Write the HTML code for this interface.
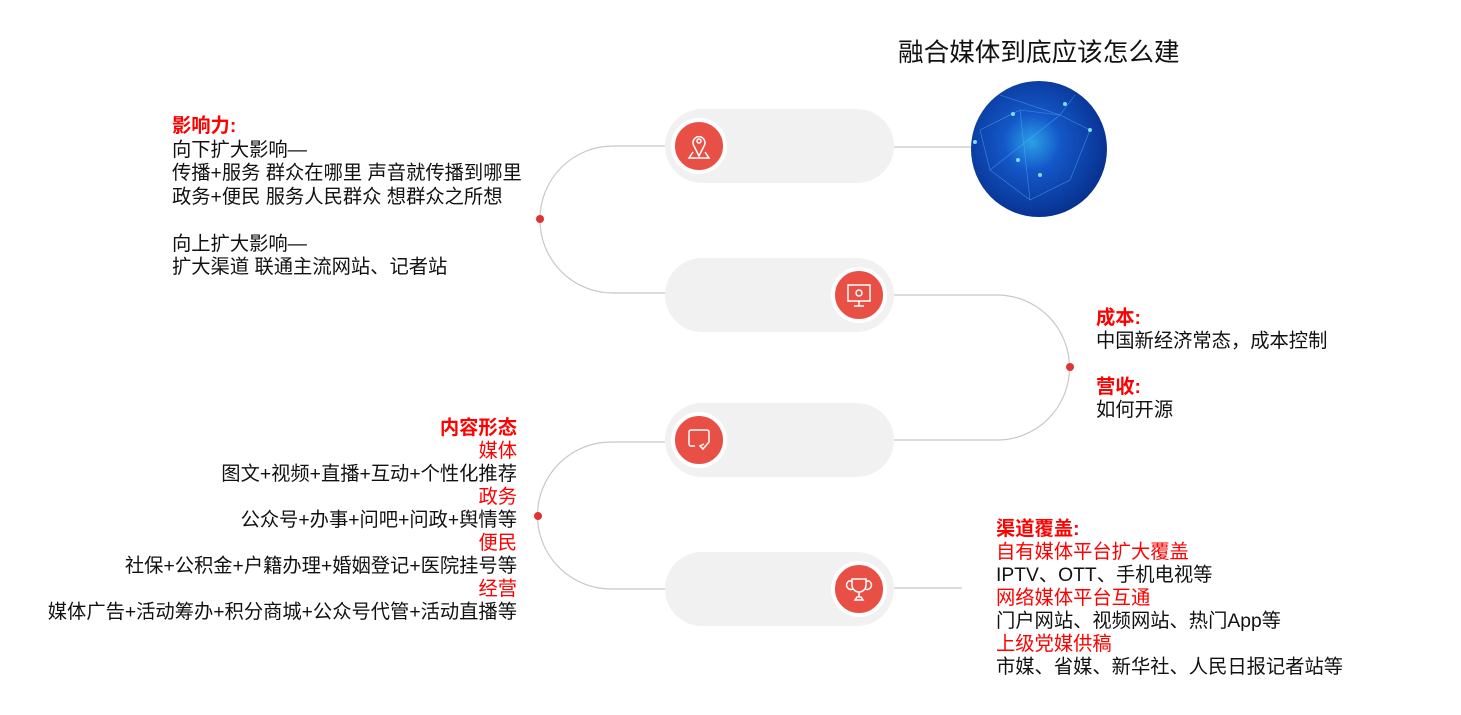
<!DOCTYPE html>
<html><head><meta charset="utf-8"><style>
body{margin:0;width:1461px;height:715px;background:#fff;position:relative;overflow:hidden;font-family:"Liberation Sans","Noto Sans CJK SC",sans-serif;color:#111}
.t{position:absolute;font-size:19.3px;line-height:23.5px;white-space:nowrap}
.r{color:#f00}.b{font-weight:bold}
.pill{position:absolute;left:665px;width:229px;height:74px;border-radius:37px;background:#f1f1f1}
.ic{position:absolute;width:48px;height:48px;border-radius:50%;background:#e84f45;border:4px solid #fff}
</style></head><body>
<svg width="1461" height="715" style="position:absolute;left:0;top:0">
<g fill="none" stroke="#c8c8c8" stroke-width="1.2">
<path d="M665,146 H613 A73,73 0 0 0 540,219 A73,73 0 0 0 613,293 H665"/>
<path d="M894,295 H997 A72.5,72.5 0 0 1 1069.5,367.5 A72.5,72.5 0 0 1 997,440 H894"/>
<path d="M665,442 H611 A73.5,73.5 0 0 0 537.5,515.5 A73.5,73.5 0 0 0 611,589 H665"/>
<path d="M894,147 H975"/><path d="M894,588 H962"/>
</g>
<circle cx="540" cy="219" r="4" fill="#e03333"/>
<circle cx="1070" cy="367" r="4" fill="#e03333"/>
<circle cx="538" cy="516" r="4" fill="#e03333"/>
<defs><radialGradient id="g" cx="45%" cy="45%" r="60%"><stop offset="0" stop-color="#2aa0e8"/><stop offset="0.35" stop-color="#1457c8"/><stop offset="1" stop-color="#062e8a"/></radialGradient></defs>
<circle cx="1039" cy="149" r="68" fill="url(#g)"/>
<g stroke="#5ab8ff" stroke-width="0.6" opacity="0.6" fill="none">
<path d="M980,130 L1020,110 L1060,115 L1090,130 L1070,180 L1030,200 L990,170 Z M1020,110 L1030,200 M1060,115 L990,170 M1000,95 L1060,115 L1075,95"/>
</g>
<g fill="#7fdcff"><circle cx="1013" cy="114" r="2"/><circle cx="1065" cy="104" r="2"/><circle cx="1090" cy="130" r="2"/><circle cx="1018" cy="160" r="2"/><circle cx="1040" cy="175" r="2"/><circle cx="975" cy="142" r="2"/></g>
</svg>
<div class="pill" style="top:109px"></div>
<div class="pill" style="top:258px"></div>
<div class="pill" style="top:403px"></div>
<div class="pill" style="top:552px"></div>
<div class="ic" style="left:671px;top:118px"><svg width="48" height="48"><g fill="none" stroke="#fff" stroke-width="1.5"><path d="M24,34 L19,24 A6,6 0 1 1 29,24 Z"/><circle cx="24" cy="19" r="2"/><path d="M18,30 L14,36 H34 L30,30"/></g></svg></div>
<div class="ic" style="left:831px;top:267px"><svg width="48" height="48"><g fill="none" stroke="#fff" stroke-width="1.5"><rect x="13" y="14" width="22" height="16"/><path d="M24,30 V35 M19,35 H29"/><circle cx="24" cy="22" r="3"/></g></svg></div>
<div class="ic" style="left:671px;top:412px"><svg width="48" height="48"><g fill="none" stroke="#fff" stroke-width="1.5"><path d="M20,30 H16 A2,2 0 0 1 14,28 V16 A2,2 0 0 1 16,14 H32 A2,2 0 0 1 34,16 V26 L28,33 L25,30 L29,28"/></g></svg></div>
<div class="ic" style="left:831px;top:561px"><svg width="48" height="48"><g fill="none" stroke="#fff" stroke-width="1.5"><path d="M17,14 H31 V20 A7,7 0 0 1 17,20 Z M17,16 H14 A4,4 0 0 0 18,24 M31,16 H34 A4,4 0 0 1 30,24 M24,27 V32 M20,35 H28 L26,32 H22 Z"/></g></svg></div>
<div class="t" style="left:898px;top:38px;font-size:25.6px;line-height:30px">融合媒体到底应该怎么建</div>
<div class="t" style="left:172px;top:115px">
<span class="r b">影响力:</span><br>向下扩大影响—<br>传播+服务 群众在哪里 声音就传播到哪里<br>政务+便民 服务人民群众 想群众之所想<br><br>向上扩大影响—<br>扩大渠道 联通主流网站、记者站</div>
<div class="t" style="right:944px;top:417px;text-align:right;line-height:23px">
<span class="r b">内容形态</span><br><span class="r">媒体</span><br>图文+视频+直播+互动+个性化推荐<br><span class="r">政务</span><br>公众号+办事+问吧+问政+舆情等<br><span class="r">便民</span><br>社保+公积金+户籍办理+婚姻登记+医院挂号等<br><span class="r">经营</span><br>媒体广告+活动筹办+积分商城+公众号代管+活动直播等</div>
<div class="t" style="left:1096px;top:307px;line-height:23px">
<span class="r b">成本:</span><br>中国新经济常态，成本控制<br><br><span class="r b">营收:</span><br>如何开源</div>
<div class="t" style="left:996px;top:518px;line-height:23px">
<span class="r b">渠道覆盖:</span><br><span class="r">自有媒体平台扩大覆盖</span><br>IPTV、OTT、手机电视等<br><span class="r">网络媒体平台互通</span><br>门户网站、视频网站、热门App等<br><span class="r">上级党媒供稿</span><br>市媒、省媒、新华社、人民日报记者站等</div>
</body></html>
